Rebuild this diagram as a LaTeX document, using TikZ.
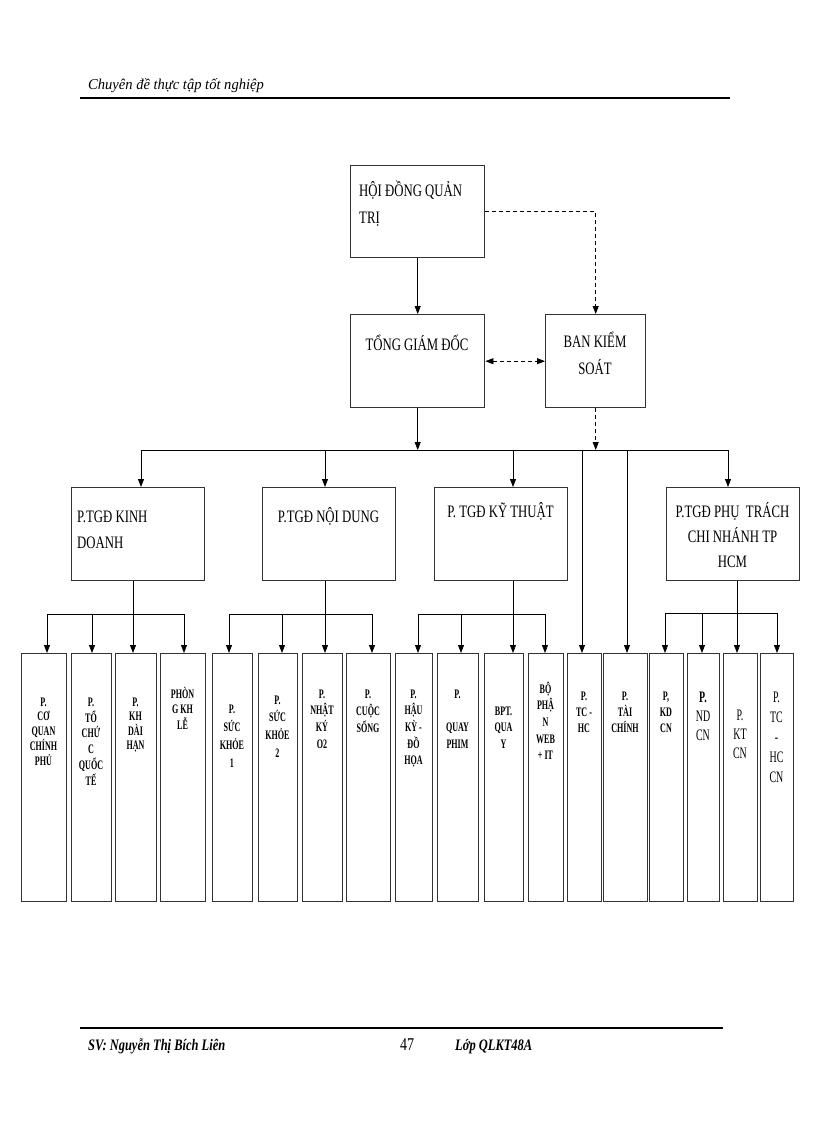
\documentclass[tikz,border=0pt]{standalone}
\usepackage{fontspec}
\usetikzlibrary{arrows.meta}
\setmainfont{Liberation Serif}
\newfontfamily\fa[FakeStretch=0.73]{Liberation Serif}
\newfontfamily\fb[FakeStretch=0.62]{Liberation Serif}
\newfontfamily\fh[FakeStretch=0.97]{Liberation Serif}
\newfontfamily\ff[FakeStretch=0.78]{Liberation Serif}
\newcommand\tb[2][c]{\begin{tabular}[t]{@{}#1@{}}#2\end{tabular}}
\newcommand\mkbox[5]{\node[box,minimum width={(#4-#2)*1pt},minimum height={(#5-#3)*1pt}] (#1) at (#2,#3) {};}
\newcommand\bt[5]{\node[txt,font=\fb\fontsize{13}{#4}\selectfont\bfseries] (#1) at (#2,#3) {\tb{#5}};}
\newcommand\rt[5]{\node[txt,font=\fb\fontsize{16}{#4}\selectfont] (#1) at (#2,#3) {\tb{#5}};}
\begin{document}
\begin{tikzpicture}[x=1pt,y=-1pt,
  box/.style={draw=black!80,line width=1.4pt,fill=white,inner sep=0,anchor=north west},
  tip/.style={-{Triangle[length=8pt,width=6pt]}},
  arr/.style={tip,line width=0.8pt},
  dsh/.style={dash pattern=on 4pt off 3pt,line width=0.8pt},
  ln/.style={line width=0.8pt},
  txt/.style={inner sep=0,anchor=base},
  topf/.style={font=\fa\fontsize{17.5}{27}\selectfont}]
\useasboundingbox (0,0) rectangle (816,1123);

% header and footer
\coordinate (hl1) at (80,98); \coordinate (hl2) at (730,98);
\draw[line width=2.8pt] (hl1) -- (hl2);
\node[txt,anchor=base west,font=\fh\itshape\fontsize{15}{18}\selectfont] (head) at (88,90) {Chuyên đề thực tập tốt nghiệp};
\coordinate (fl1) at (80,1028); \coordinate (fl2) at (723,1028);
\draw[line width=2.8pt] (fl1) -- (fl2);
\node[txt,anchor=base west,font=\ff\bfseries\itshape\fontsize{16}{18}\selectfont] (sv) at (88,1050) {SV: Nguyễn Thị Bích Liên};
\node[txt,anchor=base west,font=\ff\fontsize{18}{20}\selectfont] (pg) at (400,1050) {47};
\node[txt,anchor=base west,font=\ff\bfseries\itshape\fontsize{16}{18}\selectfont] (lop) at (455,1050) {Lớp QLKT48A};

% boxes
\mkbox{hdqt}{350}{165}{484}{257}
\mkbox{tgd}{350}{314}{484}{407}
\mkbox{bks}{545}{314}{645}{407}
\mkbox{kd}{71}{487}{204}{580}
\mkbox{nd}{262}{487}{395}{580}
\mkbox{kt}{434}{487}{567}{580}
\mkbox{pt}{666}{487}{799}{580}
\foreach \n/\a/\b in {1/21/66,2/71/111,3/115/156,4/160/205,5/212/252,6/258/297,
  7/302/342,8/346/390,9/395/432,10/437/478,11/484/523,12/528/563,13/567/601,
  14/603/647,15/649/683,16/687/719,17/723/757,18/760/793}
  {\mkbox{b\n}{\a}{653}{\b}{901}}

% connectors top
\draw[arr] (hdqt.south) -- (tgd.north);
\draw[dsh,tip] (hdqt.east) -| (bks.north);
\draw[dsh,{Triangle[length=8pt,width=6pt]}-{Triangle[length=8pt,width=6pt]}] (tgd.east) -- (bks.west);
\coordinate (busL) at (141,450); \coordinate (busR) at (728,450);
\draw[ln] (busL) -- (busR);
\draw[arr] (tgd.south) -- (tgd.south |- busL);
\draw[dsh,tip] (bks.south) -- (bks.south |- busL);
\draw[arr] (busL) -- (busL |- kd.north);
\coordinate (dnd) at (325,450); \draw[arr] (dnd) -- (dnd |- nd.north);
\coordinate (dkt) at (513,450); \draw[arr] (dkt) -- (dkt |- kt.north);
\draw[arr] (busR) -- (busR |- pt.north);
\coordinate (dtc) at (582,450); \draw[arr] (dtc) -- (dtc |- b13.north);
\coordinate (dtn) at (627,450); \draw[arr] (dtn) -- (dtn |- b14.north);

% sub-buses
\coordinate (skd) at (133,614); \draw[ln] (skd |- kd.south) -- (skd);
\coordinate (skdL) at (47,614); \coordinate (skdR) at (184,614); \draw[ln] (skdL) -- (skdR);
\coordinate (snd) at (325,614); \draw[ln] (snd |- nd.south) -- (snd);
\coordinate (sndL) at (229,614); \coordinate (sndR) at (372,614); \draw[ln] (sndL) -- (sndR);
\coordinate (skt) at (513,614); \draw[ln] (skt |- kt.south) -- (skt);
\coordinate (sktL) at (418,614); \coordinate (sktR) at (545,614); \draw[ln] (sktL) -- (sktR);
\coordinate (spt) at (737,613); \draw[ln] (spt |- pt.south) -- (spt);
\coordinate (sptL) at (665,613); \coordinate (sptR) at (777,613); \draw[ln] (sptL) -- (sptR);
\foreach \x/\y/\b in {47/614/b1,92/614/b2,133/614/b3,184/614/b4,
  229/614/b5,282/614/b6,325/614/b7,372/614/b8,
  418/614/b9,461/614/b10,513/614/b11,545/614/b12,
  665/613/b15,702/613/b16,737/613/b17,777/613/b18}
  {\coordinate (c\b) at (\x,\y); \draw[arr] (c\b) -- (c\b |- \b.north);}

% top texts
\node[txt,anchor=base west,topf] (thdqt) at (359,197) {\tb[l]{HỘI ĐỒNG QUẢN\\TRỊ}};
\node[txt,topf] (ttgd) at (417,350) {TỔNG GIÁM ĐỐC};
\node[txt,topf] (tbks) at (595,347) {\tb{BAN KIỂM\\SOÁT}};
\node[txt,anchor=base west,font=\fa\fontsize{17.5}{26}\selectfont] (tkd) at (77,522) {\tb[l]{P.TGĐ KINH\\DOANH}};
\node[txt,topf] (tnd) at (328.5,522) {P.TGĐ NỘI DUNG};
\node[txt,topf] (tkt) at (500.5,517) {P. TGĐ KỸ THUẬT};
\node[txt,font=\fa\fontsize{17.5}{25}\selectfont] (tpt) at (732.5,517) {\tb{P.TGĐ PHỤ\ \ TRÁCH\\CHI NHÁNH TP\\HCM}};

% bottom texts
\bt{t1}{43.5}{706}{14.5}{P.\\CƠ\\QUAN\\CHÍNH\\PHỦ}
\bt{t2}{91}{706}{15.3}{P.\\TỔ\\CHỨ\\C\\QUỐC\\TẾ}
\bt{t3}{135.5}{706}{14.2}{P.\\KH\\DÀI\\HẠN}
\bt{t4}{182.5}{698}{15.5}{PHÒN\\G KH\\LỄ}
\bt{t5}{232}{713}{18}{P.\\SỨC\\KHỎE\\1}
\bt{t6}{277.5}{704}{17.7}{P.\\SỨC\\KHỎE\\2}
\bt{t7}{322}{698}{16.7}{P.\\NHẬT\\KÝ\\O2}
\bt{t8}{368}{698}{17}{P.\\CUỘC\\SỐNG}
\bt{t9}{413.5}{698}{16.7}{P.\\HẬU\\KỲ -\\ĐỒ\\HỌA}
\bt{t10}{457.5}{698}{16.7}{P.\\ \\QUAY\\PHIM}
\bt{t11}{503.5}{715}{16.7}{BPT.\\QUA\\Y}
\bt{t12}{545.5}{693}{16.7}{BỘ\\PHẬ\\N\\WEB\\+ IT}
\bt{t13}{584}{700}{16}{P.\\TC -\\HC}
\bt{t14}{625}{700}{16}{P.\\TÀI\\CHÍNH}
\bt{t15}{666}{700}{16}{P,\\KD\\CN}
\rt{t16}{703}{702}{19}{\textbf{P.}\\ND\\CN}
\rt{t17}{740}{720}{19}{P.\\KT\\CN}
\rt{t18}{776.5}{702}{20}{P.\\TC\\-\\HC\\CN}
\end{tikzpicture}
\end{document}
